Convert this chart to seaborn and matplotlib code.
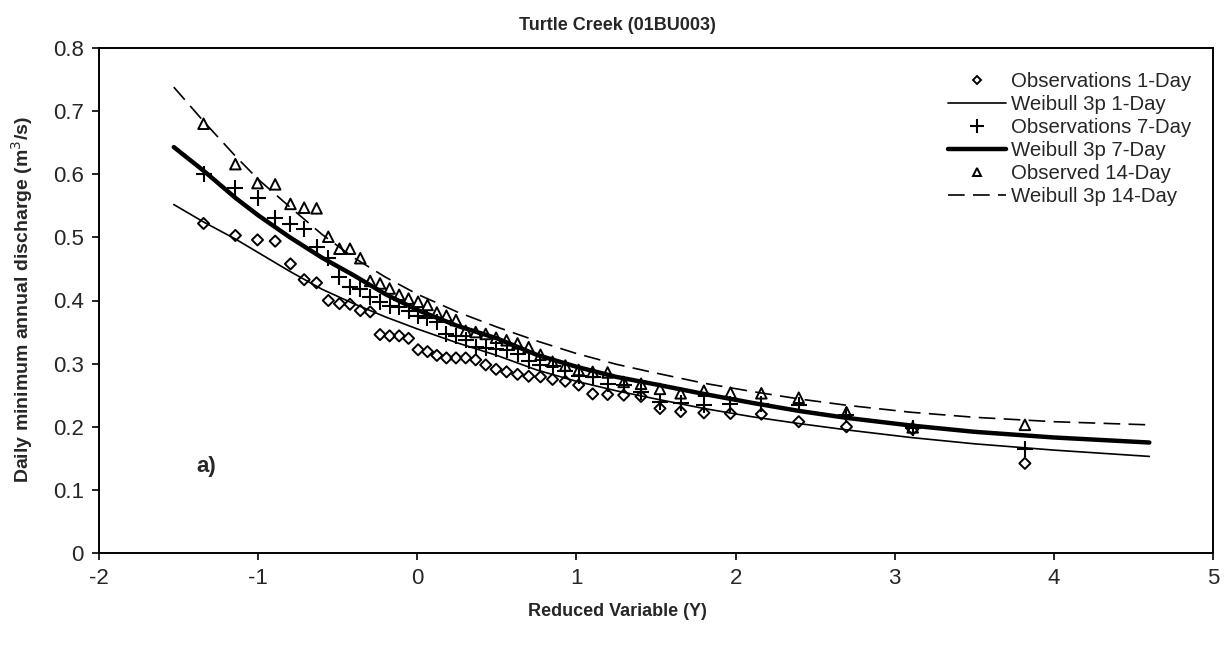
import matplotlib
matplotlib.use("Agg")
import matplotlib.pyplot as plt
from matplotlib.lines import Line2D
import numpy as np
import pandas as pd
import seaborn as sns

# Reduced variable (Gumbel) of each ranked observation
reduced_y = [-1.343, -1.143, -1.004, -0.893, -0.797, -0.711, -0.633, -0.559, -0.489,
             -0.423, -0.358, -0.296, -0.234, -0.174, -0.114, -0.055, 0.005, 0.064,
             0.123, 0.183, 0.243, 0.304, 0.367, 0.430, 0.495, 0.561, 0.630, 0.700,
             0.774, 0.850, 0.930, 1.014, 1.102, 1.196, 1.297, 1.406, 1.525, 1.655,
             1.801, 1.968, 2.162, 2.397, 2.697, 3.113, 3.818]

# Observed annual minima (m3/s)
obs_1day = [0.522, 0.503, 0.496, 0.494, 0.458, 0.433, 0.428, 0.400, 0.395, 0.394,
            0.384, 0.382, 0.346, 0.344, 0.344, 0.340, 0.322, 0.319, 0.313, 0.309,
            0.309, 0.309, 0.306, 0.298, 0.291, 0.287, 0.283, 0.280, 0.279, 0.275,
            0.272, 0.266, 0.252, 0.251, 0.250, 0.248, 0.229, 0.224, 0.222, 0.221,
            0.220, 0.208, 0.200, 0.196, 0.142]
obs_7day = [0.600, 0.579, 0.562, 0.531, 0.521, 0.513, 0.485, 0.468, 0.438, 0.422,
            0.418, 0.405, 0.398, 0.391, 0.389, 0.384, 0.376, 0.373, 0.366, 0.347,
            0.344, 0.338, 0.327, 0.325, 0.323, 0.321, 0.316, 0.304, 0.298, 0.296,
            0.289, 0.281, 0.279, 0.268, 0.266, 0.255, 0.240, 0.237, 0.234, 0.236,
            0.236, 0.234, 0.218, 0.198, 0.165]
obs_14day = [0.680, 0.616, 0.586, 0.584, 0.553, 0.547, 0.546, 0.501, 0.482, 0.482,
             0.467, 0.431, 0.427, 0.419, 0.409, 0.403, 0.398, 0.393, 0.381, 0.376,
             0.369, 0.352, 0.350, 0.347, 0.341, 0.337, 0.332, 0.326, 0.314, 0.303,
             0.297, 0.290, 0.287, 0.286, 0.271, 0.268, 0.260, 0.253, 0.257, 0.254,
             0.253, 0.246, 0.223, 0.199, 0.203]

# Fitted 3-parameter Weibull quantiles along the reduced variable
fit_y = [-1.53, -1.34, -1.14, -1.0, -0.8, -0.6, -0.4, -0.2, 0.0, 0.25, 0.5, 0.75,
         1.0, 1.25, 1.5, 1.8, 2.1, 2.4, 2.7, 3.1, 3.5, 4.0, 4.6]
fit_1day = [0.552, 0.524, 0.497, 0.476, 0.446, 0.418, 0.395, 0.374, 0.355, 0.333,
            0.313, 0.290, 0.272, 0.257, 0.244, 0.229, 0.216, 0.205, 0.195, 0.183,
            0.173, 0.163, 0.153]
fit_7day = [0.643, 0.605, 0.562, 0.535, 0.500, 0.468, 0.440, 0.410, 0.385, 0.360,
            0.340, 0.314, 0.295, 0.279, 0.267, 0.252, 0.238, 0.225, 0.214, 0.202,
            0.192, 0.183, 0.175]
fit_14day = [0.738, 0.683, 0.628, 0.592, 0.548, 0.505, 0.468, 0.437, 0.410, 0.382,
             0.358, 0.336, 0.316, 0.299, 0.285, 0.269, 0.256, 0.244, 0.234, 0.223,
             0.215, 0.208, 0.203]

labels = ["Observations 1-Day", "Weibull 3p 1-Day", "Observations 7-Day",
          "Weibull 3p 7-Day", "Observed 14-Day", "Weibull 3p 14-Day"]

obs = pd.DataFrame({"Y": reduced_y, "d1": obs_1day, "d7": obs_7day, "d14": obs_14day})
fit = pd.DataFrame({"Y": fit_y, "d1": fit_1day, "d7": fit_7day, "d14": fit_14day})

sns.set_style("white")
plt.rcParams["font.family"] = ["Liberation Sans", "DejaVu Sans"]
plt.rcParams["axes.unicode_minus"] = False

W, H = 1228, 656
fig = plt.figure(figsize=(W / 100, H / 100), dpi=100)
ax = fig.add_axes([99 / W, 1 - 553 / H, (1213 - 99) / W, (553 - 48) / H])

# fitted curves
sns.lineplot(data=fit, x="Y", y="d1", ax=ax, color="black", linewidth=1.2, sort=False)
sns.lineplot(data=fit, x="Y", y="d7", ax=ax, color="black", linewidth=3.2, sort=False)
sns.lineplot(data=fit, x="Y", y="d14", ax=ax, color="black", linewidth=1.2,
             dashes=False, linestyle=(0, (10, 5)), sort=False)

# observations
sns.scatterplot(data=obs, x="Y", y="d1", ax=ax, marker="D", s=32, color="black",
                facecolor="none", edgecolor="black", linewidth=1.4, zorder=3)
sns.scatterplot(data=obs, x="Y", y="d7", ax=ax, marker="+", s=130, color="black",
                linewidth=1.5, zorder=3)
sns.scatterplot(data=obs, x="Y", y="d14", ax=ax, marker="^", s=58, color="black",
                facecolor="none", edgecolor="black", linewidth=1.4, zorder=3)

ax.set_xlim(-2, 5)
ax.set_ylim(0, 0.8)
ax.set_xticks(range(-2, 6))
ax.set_xticklabels([str(v) for v in range(-2, 6)])
ax.set_yticks(np.arange(0, 0.81, 0.1))
ax.set_yticklabels(["0"] + [f"{v:.1f}" for v in np.arange(0.1, 0.81, 0.1)])
ax.tick_params(axis="both", which="major", direction="out", length=5, width=1.2,
               labelsize=16, color="black", pad=6)
ax.tick_params(axis="x", pad=6)
ax.tick_params(top=False, right=False, left=True, bottom=True)
for sp in ax.spines.values():
    sp.set_color("black")
    sp.set_linewidth(1.4)
ax.set_xlabel("")
ax.set_ylabel("")

fig.text(617 / W, 1 - 25 / H, "Turtle Creek (01BU003)", ha="center", va="center",
         fontsize=13, fontweight="bold")
fig.text(617 / W, 1 - 612 / H, "Reduced Variable (Y)", ha="center", va="center",
         fontsize=13, fontweight="bold")
fig.text(22 / W, 1 - 300 / H, "Daily minimum annual discharge (m$^3$/s)", ha="center",
         va="center", rotation=90, fontsize=14, fontweight="bold")
ax.text(-1.39, 0.137, "a)", fontsize=16, fontweight="bold", ha="left", va="center")

handles = [
    Line2D([], [], linestyle="none", marker="D", markersize=4.5, markerfacecolor="none",
           markeredgecolor="black", markeredgewidth=1.4),
    Line2D([], [], color="black", linewidth=1.2),
    Line2D([], [], linestyle="none", marker="+", markersize=10, color="black",
           markeredgewidth=1.5),
    Line2D([], [], color="black", linewidth=3.2),
    Line2D([], [], linestyle="none", marker="^", markersize=6, markerfacecolor="none",
           markeredgecolor="black", markeredgewidth=1.4),
    Line2D([], [], color="black", linewidth=1.2, linestyle=(0, (10, 5))),
]
fig.legend(handles, labels, loc="upper left", bbox_to_anchor=(948 / W, 1 - 72 / H),
           frameon=False, fontsize=14.7, handlelength=2.85, handletextpad=0.25,
           labelspacing=0.2, borderpad=0, borderaxespad=0)

fig.savefig("out.png", dpi=100)
